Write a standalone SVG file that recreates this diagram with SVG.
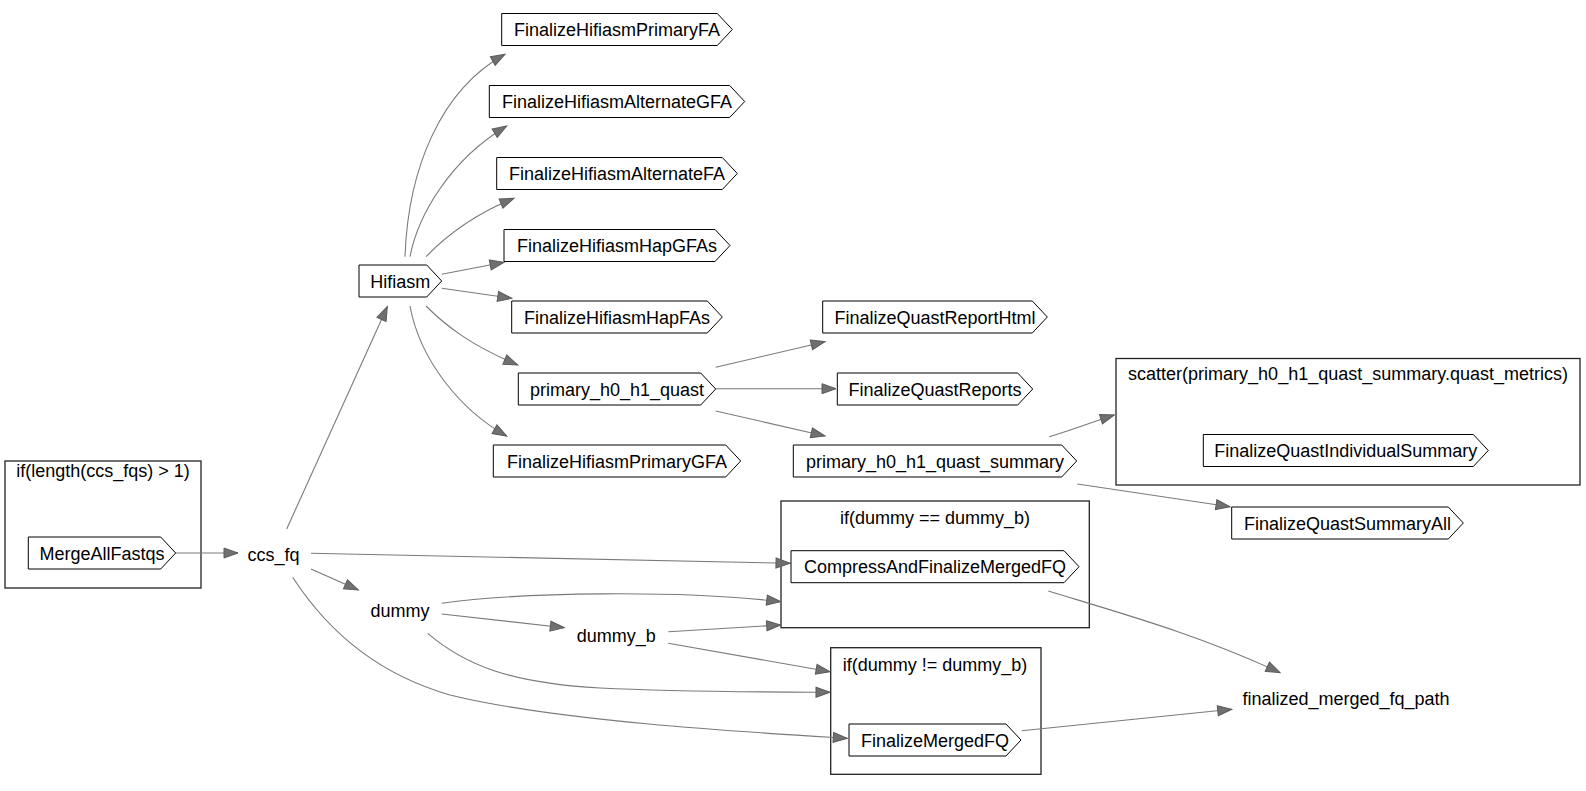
<svg xmlns="http://www.w3.org/2000/svg" width="1586" height="791" viewBox="0 0 1586 791">
<style>
text{font-family:"Liberation Sans",Arial,Helvetica,sans-serif;font-size:18px;fill:#000}
.n text,.lbl{text-anchor:middle}
.n polygon{fill:#fff;stroke:#000;stroke-width:1}
.cl{fill:none;stroke:#222;stroke-width:1.3}
.e path{fill:none;stroke:#7a7a7a;stroke-width:1.1;marker-end:url(#ah)}
</style>
<defs>
<marker id="ah" markerUnits="userSpaceOnUse" markerWidth="16" markerHeight="12" refX="14" refY="5" orient="auto" overflow="visible">
<path d="M0,0 L14,5 L0,10 Z" fill="#707070" stroke="#5a5a5a" stroke-width="1"/>
</marker>
</defs>
<rect width="1586" height="791" fill="#fff"/>

<g id="clusters">
<g id="cluster_if_length"><rect class="cl" x="5" y="461" width="196" height="127"/><text class="lbl" x="103" y="477">if(length(ccs_fqs) &gt; 1)</text></g>
<g id="cluster_scatter"><rect class="cl" x="1116" y="358.5" width="464" height="126.5"/><text class="lbl" x="1348" y="380">scatter(primary_h0_h1_quast_summary.quast_metrics)</text></g>
<g id="cluster_if_eq"><rect class="cl" x="781" y="501" width="308.3" height="126.7"/><text class="lbl" x="935" y="524">if(dummy == dummy_b)</text></g>
<g id="cluster_if_neq"><rect class="cl" x="830.7" y="647.7" width="210.3" height="126.6"/><text class="lbl" x="935" y="671">if(dummy != dummy_b)</text></g>
</g>

<g id="connectors" class="e">
<path d="M176,553 L238,553"/>
<path d="M286.7,529 L387.3,306.7"/>
<path d="M405,256.7 C408,170 440,90 505,54.3"/>
<path d="M410,256.7 C418,215 450,160 506.7,126"/>
<path d="M426,256.7 C450,232 480,212 514,198.3"/>
<path d="M441.7,274.3 L504,262.3"/>
<path d="M441.7,288.3 L511.7,298.3"/>
<path d="M426,306 C445,325 470,345 517.7,365"/>
<path d="M410,306 C420,360 460,410 506.7,436"/>
<path d="M715.7,367.3 L825,341.7"/>
<path d="M715.7,388.7 L836,388.7"/>
<path d="M715.7,411 L825,436"/>
<path d="M1049.3,436.7 C1075,429 1095,421 1114.3,415"/>
<path d="M1077.3,484 L1230,506.7"/>
<path d="M311,553.3 L790,563.3"/>
<path d="M311,569 L358.3,590"/>
<path d="M292.7,577.3 C330,635 380,675 450,695 C560,722 760,733 847.3,738.3"/>
<path d="M441.7,603.3 C520,592 680,590 780.7,601.7"/>
<path d="M441.7,614 L564.3,627.7"/>
<path d="M427.7,633.3 C465,665 510,683 600,688 C680,692 760,692 830,692.3"/>
<path d="M668.3,631.7 L780.7,625"/>
<path d="M668.3,643.3 L830,671.7"/>
<path d="M1048.3,591 C1120,613 1200,635 1280,672.7"/>
<path d="M1021.7,730.7 L1231.7,709.3"/>
</g>

<g id="nodes" class="n">
<g id="MergeAllFastqs"><polygon points="28.3,537 160.7,537 175.7,553 160.7,569 28.3,569"/><text x="102" y="559.5">MergeAllFastqs</text></g>
<g id="ccs_fq"><text x="273.5" y="560.5">ccs_fq</text></g>
<g id="Hifiasm"><polygon points="359,265 426.7,265 441.7,281 426.7,297 359,297"/><text x="400.3" y="287.5">Hifiasm</text></g>
<g id="FinalizeHifiasmPrimaryFA"><polygon points="501.7,13.5 717.3,13.5 732.3,29.5 717.3,45.5 501.7,45.5"/><text x="617" y="36">FinalizeHifiasmPrimaryFA</text></g>
<g id="FinalizeHifiasmAlternateGFA"><polygon points="489.3,85.5 729.7,85.5 744.7,101.5 729.7,117.5 489.3,117.5"/><text x="617" y="108">FinalizeHifiasmAlternateGFA</text></g>
<g id="FinalizeHifiasmAlternateFA"><polygon points="496.7,157.5 722.3,157.5 737.3,173.5 722.3,189.5 496.7,189.5"/><text x="617" y="180">FinalizeHifiasmAlternateFA</text></g>
<g id="FinalizeHifiasmHapGFAs"><polygon points="504,229.5 715,229.5 730,245.5 715,261.5 504,261.5"/><text x="617" y="252">FinalizeHifiasmHapGFAs</text></g>
<g id="FinalizeHifiasmHapFAs"><polygon points="511.7,301 707.3,301 722.3,317 707.3,333 511.7,333"/><text x="617" y="323.5">FinalizeHifiasmHapFAs</text></g>
<g id="primary_h0_h1_quast"><polygon points="518.3,373 700.7,373 715.7,389 700.7,405 518.3,405"/><text x="617" y="395.5">primary_h0_h1_quast</text></g>
<g id="FinalizeHifiasmPrimaryGFA"><polygon points="493.3,445 725.7,445 740.7,461 725.7,477 493.3,477"/><text x="617" y="467.5">FinalizeHifiasmPrimaryGFA</text></g>
<g id="FinalizeQuastReportHtml"><polygon points="822.7,301 1032.3,301 1047.3,317 1032.3,333 822.7,333"/><text x="935" y="323.5">FinalizeQuastReportHtml</text></g>
<g id="FinalizeQuastReports"><polygon points="837.3,373 1017.7,373 1032.7,389 1017.7,405 837.3,405"/><text x="935" y="395.5">FinalizeQuastReports</text></g>
<g id="primary_h0_h1_quast_summary"><polygon points="793.3,445 1061.7,445 1076.7,461 1061.7,477 793.3,477"/><text x="935" y="467.5">primary_h0_h1_quast_summary</text></g>
<g id="FinalizeQuastIndividualSummary"><polygon points="1203.3,434.5 1473.3,434.5 1488.3,450.5 1473.3,466.5 1203.3,466.5"/><text x="1345.8" y="457">FinalizeQuastIndividualSummary</text></g>
<g id="FinalizeQuastSummaryAll"><polygon points="1231.7,507 1448.3,507 1463.3,523 1448.3,539 1231.7,539"/><text x="1347.5" y="529.5">FinalizeQuastSummaryAll</text></g>
<g id="dummy"><text x="400" y="616.7">dummy</text></g>
<g id="dummy_b"><text x="616.3" y="641.7">dummy_b</text></g>
<g id="CompressAndFinalizeMergedFQ"><polygon points="791,550.7 1064,550.7 1079,566.7 1064,582.7 791,582.7"/><text x="935" y="573.2">CompressAndFinalizeMergedFQ</text></g>
<g id="FinalizeMergedFQ"><polygon points="849,724 1006,724 1021,740 1006,756 849,756"/><text x="935" y="746.5">FinalizeMergedFQ</text></g>
<g id="finalized_merged_fq_path"><text x="1346" y="705">finalized_merged_fq_path</text></g>
</g>
</svg>
